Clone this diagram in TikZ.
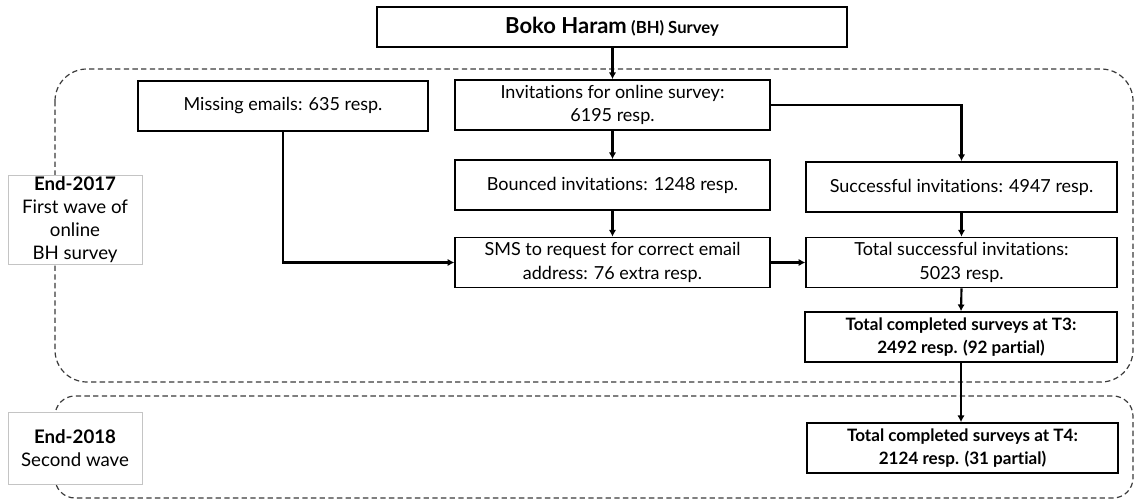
\documentclass[tikz,border=0pt]{standalone}
\usepackage{fontspec}
\setmainfont{Lato}[Ligatures={NoCommon,NoRare,NoContextual}]
\usepackage{tikz}
\usetikzlibrary{arrows.meta,calc,positioning}
\definecolor{tinta}{HTML}{000000}
\definecolor{borde}{HTML}{3A3A3A}
\definecolor{tenue}{HTML}{C4C4C4}
\tikzset{
  caja/.style={draw=tinta,fill=white,line width=1.3pt,inner sep=2pt,align=center,minimum height=37.5pt,font=\fontsize{13.5}{17.5}\selectfont},
  cajaneg/.style={caja,font=\fontsize{12.8}{17.5}\selectfont\bfseries},
  etiqueta/.style={draw=tenue,fill=white,line width=0.6pt,align=center,minimum width=100.5pt,inner sep=1pt,font=\fontsize{14}{17.3}\selectfont},
  zona/.style={draw=borde,line width=0.9pt,dash pattern=on 4pt off 2.5pt},
  flecha/.style={draw=tinta,line width=1.6pt,-{Latex[length=5pt,width=5.5pt]}},
}

\begin{document}
\begin{tikzpicture}[x=0.75pt,y=-0.75pt]
\useasboundingbox (0,0) rectangle (1135,502);
% zonas de las dos olas
\draw[zona,rounded corners=24pt] (55,69) rectangle (1133,382);
\draw[zona,rounded corners=15pt] (55,396) rectangle (1133,498);
\node[etiqueta,minimum height=57pt] (e2017) at (75,220) {\textbf{End-2017}\\First wave of\\online\\BH survey};
\node[etiqueta,minimum height=54pt] (e2018) at (75,448) {\textbf{End-2018}\\Second wave};
% cajas
\node[caja,minimum width=352.5pt,minimum height=30pt] (titulo) at (612,27) {\bfseries{\fontsize{16.5}{18}\selectfont Boko Haram} {\fontsize{12.5}{18}\selectfont (BH) Survey}};
\node[caja,minimum width=217.5pt] (miss) at (283,106) {Missing emails: 635 resp.};
\node[caja,minimum width=236pt] (inv) at (612.5,105) {Invitations for online survey:\\6195 resp.};
\node[caja,minimum width=236pt] (rebote) at (612.5,185) {Bounced invitations: 1248 resp.};
\node[caja,minimum width=236pt] (sms) at (612.5,262.5) {SMS to request for correct email\\address: 76 extra resp.};
\node[caja,minimum width=233pt] (exito) at (961.5,187) {Successful invitations: 4947 resp.};
\node[caja,minimum width=233pt] (totexito) at (961.5,262.5) {Total successful invitations:\\5023 resp.};
\node[cajaneg,minimum width=234pt] (t3) at (961,337) {Total completed surveys at T3:\\2492 resp. (92 partial)};
\node[cajaneg,minimum width=233pt] (t4) at (962.5,448) {Total completed surveys at T4:\\2124 resp. (31 partial)};
% flechas
\draw[flecha] (inv.north |- titulo.south) -- (inv.north);
\draw[flecha] (inv.south) -- (rebote.north);
\draw[flecha] (inv.east) -| (exito.north);
\draw[flecha] (rebote.south) -- (sms.north);
\draw[flecha] (miss.south) |- (sms.west);
\draw[flecha] (sms.east) -- (totexito.west);
\draw[flecha] (exito.south) -- (totexito.north);
\draw[flecha] (totexito.south) -- (t3.north);
\draw[flecha] (t3.south) -- (t3.south |- t4.north);
\end{tikzpicture}
\end{document}
